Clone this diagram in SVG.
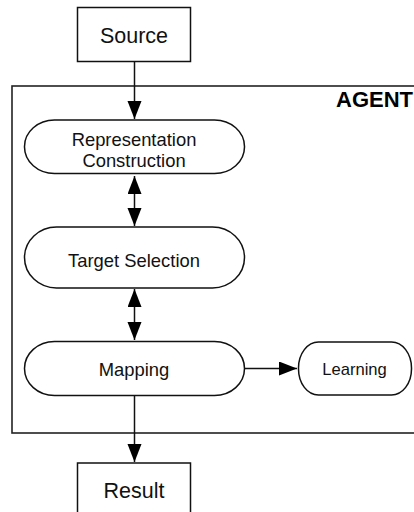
<svg xmlns="http://www.w3.org/2000/svg" width="414" height="512" viewBox="0 0 414 512">
<style>
.box{fill:#fff;stroke:#111;stroke-width:1.5}
.frame{fill:none;stroke:#222;stroke-width:1.6}
.lbl{font-family:"Liberation Sans",Arial,sans-serif;fill:#111;text-anchor:middle}
.big{font-size:21.5px}
.mid{font-size:18.4px}
.sm{font-size:16.6px}
.agent{font-family:"Liberation Sans",Arial,sans-serif;font-weight:bold;font-size:22px;fill:#000;text-anchor:end}
.edge{fill:none;stroke:#111;stroke-width:1.5}
</style>
<defs>
<marker id="ah" markerUnits="userSpaceOnUse" markerWidth="20" markerHeight="16" refX="18" refY="7" orient="auto-start-reverse">
<path d="M0,0 L18,7 L0,14 Z" fill="#000"/>
</marker>
</defs>
<g id="agent">
<rect class="frame" x="12" y="86" width="430" height="347"/>
<text class="agent" x="413" y="107">AGENT</text>
</g>
<g id="connectors">
<line class="edge" x1="134.5" y1="62" x2="134.5" y2="119" marker-end="url(#ah)"/>
<line class="edge" x1="134.5" y1="176" x2="134.5" y2="226" marker-start="url(#ah)" marker-end="url(#ah)"/>
<line class="edge" x1="134.5" y1="289" x2="134.5" y2="340" marker-start="url(#ah)" marker-end="url(#ah)"/>
<line class="edge" x1="245" y1="368.5" x2="297" y2="368.5" marker-end="url(#ah)"/>
<line class="edge" x1="134.5" y1="396" x2="134.5" y2="462" marker-end="url(#ah)"/>
</g>
<g id="source">
<rect class="box" x="77.5" y="7.5" width="113" height="54"/>
<text class="lbl big" x="134" y="43">Source</text>
</g>
<g id="representation">
<rect class="box" x="24.5" y="120" width="220" height="53.5" rx="30" ry="26.5"/>
<text class="lbl mid" x="134" y="146">Representation</text>
<text class="lbl mid" x="134" y="167">Construction</text>
</g>
<g id="target">
<rect class="box" x="24.5" y="227" width="220" height="61" rx="32" ry="30.5"/>
<text class="lbl mid" x="134" y="266.5">Target Selection</text>
</g>
<g id="mapping">
<rect class="box" x="24.5" y="341.5" width="220" height="54" rx="30" ry="27"/>
<text class="lbl mid" x="134" y="376">Mapping</text>
</g>
<g id="learning">
<rect class="box" x="298.5" y="342" width="113" height="53" rx="20" ry="26"/>
<text class="lbl sm" x="354.5" y="375">Learning</text>
</g>
<g id="result">
<rect class="box" x="77.5" y="463" width="113" height="60"/>
<text class="lbl big" x="134" y="498">Result</text>
</g>
</svg>
